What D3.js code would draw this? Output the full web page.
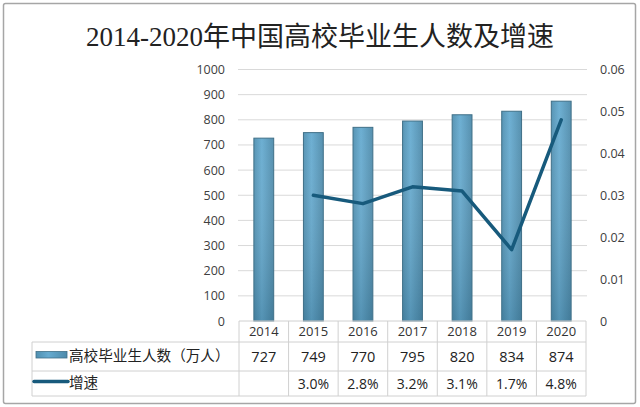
<!DOCTYPE html>
<html><head><meta charset="utf-8">
<script src="https://cdn.jsdelivr.net/npm/d3@7"></script>
<style>
html,body{margin:0;padding:0;background:#fff;}
svg{display:block;}
</style></head>
<body>
<svg id="chart" width="640" height="407"></svg>
<script>
const title = "2014-2020年中国高校毕业生人数及增速";
const years = ["2014","2015","2016","2017","2018","2019","2020"];
const graduates = [727, 749, 770, 795, 820, 834, 874];
const growth = [null, 0.030, 0.028, 0.032, 0.031, 0.017, 0.048];
const growthLabels = ["", "3.0%", "2.8%", "3.2%", "3.1%", "1.7%", "4.8%"];
const leftTicks = [0,100,200,300,400,500,600,700,800,900,1000];
const rightTicks = [0,0.01,0.02,0.03,0.04,0.05,0.06];
const seriesNames = ["高校毕业生人数（万人）", "增速"];

const svg = d3.select("#chart");
const numFont = "'Open Sans', 'Noto Sans CJK SC', sans-serif";
const cjkFont = "'Noto Sans CJK SC', sans-serif";

// outer frame
svg.append("rect").attr("x",3.5).attr("y",3.5).attr("width",632).attr("height",400)
  .attr("fill","#fff").attr("stroke","#a6a6a6").attr("stroke-width",1.5).attr("rx",2);

// title
svg.append("text").attr("x",320).attr("y",46).attr("text-anchor","middle")
  .attr("font-family","'Liberation Serif', 'Noto Sans CJK SC', serif")
  .attr("font-size",27).attr("fill","#222").text(title);

const x0 = 239, x1 = 586, yTop = 69.5, yBot = 321;
const x = d3.scaleBand().domain(years).range([x0,x1]).paddingInner(0.6).paddingOuter(0.3);
const step = x.step();
const yL = d3.scaleLinear().domain([0,1000]).range([yBot,yTop]);
const yR = d3.scaleLinear().domain([0,0.06]).range([yBot,yTop]);

// gridlines
svg.append("g").selectAll("line").data(leftTicks.filter(d=>d>0)).join("line")
  .attr("x1",x0-1).attr("x2",x1+1).attr("y1",d=>yL(d)).attr("y2",d=>yL(d))
  .attr("stroke","#d9d9d9").attr("stroke-width",1);

// left axis
const gl = svg.append("g").attr("transform",`translate(${x0},0)`)
  .call(d3.axisLeft(yL).tickValues(leftTicks).tickSize(0).tickPadding(14).tickFormat(d3.format("d")));
gl.select(".domain").remove();
gl.selectAll("text").attr("font-family",numFont).attr("font-size",12.5).attr("fill","#404040");

// right axis
const gr = svg.append("g").attr("transform",`translate(${x1},0)`)
  .call(d3.axisRight(yR).tickValues(rightTicks).tickSize(0).tickPadding(14)
    .tickFormat(d=>d===0?"0":d.toFixed(2)));
gr.select(".domain").remove();
gr.selectAll("text").attr("font-family",numFont).attr("font-size",12.5).attr("fill","#404040");

// gradient
const defs = svg.append("defs");
const grad = defs.append("linearGradient").attr("id","barGrad").attr("x1","0").attr("x2","1").attr("y1","0").attr("y2","0");
grad.append("stop").attr("offset","0%").attr("stop-color","#4f8fb0");
grad.append("stop").attr("offset","40%").attr("stop-color","#66abd0");
grad.append("stop").attr("offset","100%").attr("stop-color","#4d8aaa");
const gradV = defs.append("linearGradient").attr("id","barShade").attr("x1","0").attr("x2","0").attr("y1","0").attr("y2","1");
gradV.append("stop").attr("offset","0%").attr("stop-color","#ffffff").attr("stop-opacity",0.05);
gradV.append("stop").attr("offset","100%").attr("stop-color","#1f4a60").attr("stop-opacity",0.25);

// bars
const bars = svg.append("g");
bars.selectAll("rect.b").data(graduates).join("rect").attr("class","b")
  .attr("x",(d,i)=>x(years[i])).attr("width",x.bandwidth())
  .attr("y",d=>yL(d)).attr("height",d=>yBot-yL(d))
  .attr("fill","url(#barGrad)").attr("stroke","#3f6f87").attr("stroke-width",1);
bars.selectAll("rect.s").data(graduates).join("rect").attr("class","s")
  .attr("x",(d,i)=>x(years[i])+0.5).attr("width",x.bandwidth()-1)
  .attr("y",d=>yL(d)+0.5).attr("height",d=>yBot-yL(d)-1)
  .attr("fill","url(#barShade)");

// line
const cx = i => x(years[i]) + x.bandwidth()/2;
const lineGen = d3.line().defined(d=>d!=null).x((d,i)=>cx(i)).y(d=>yR(d));
svg.append("path").datum(growth).attr("d",lineGen)
  .attr("fill","none").attr("stroke","#175a7c").attr("stroke-width",3.5)
  .attr("stroke-linejoin","round").attr("stroke-linecap","round");

// data table
const tbl = svg.append("g");
const tLeft = 32, rowY = [321, 342, 371, 396];
const gridC = "#d0d0d0";
// horizontal lines
tbl.append("line").attr("x1",x0).attr("x2",x1).attr("y1",rowY[0]).attr("y2",rowY[0]).attr("stroke",gridC);
[1,2,3].forEach(r=>tbl.append("line").attr("x1",tLeft).attr("x2",x1).attr("y1",rowY[r]).attr("y2",rowY[r]).attr("stroke",gridC));
// vertical lines
tbl.append("line").attr("x1",tLeft).attr("x2",tLeft).attr("y1",rowY[1]).attr("y2",rowY[3]).attr("stroke",gridC);
tbl.selectAll("line.v").data(d3.range(years.length+1)).join("line").attr("class","v")
  .attr("x1",i=>x0+i*step).attr("x2",i=>x0+i*step).attr("y1",rowY[0]).attr("y2",rowY[3]).attr("stroke",gridC);

// year labels
tbl.selectAll("text.yr").data(years).join("text").attr("class","yr")
  .attr("x",(d,i)=>cx(i)).attr("y",(rowY[0]+rowY[1])/2+4.5).attr("text-anchor","middle")
  .attr("font-family",numFont).attr("font-size",13).attr("fill","#333").text(d=>d);
tbl.selectAll("text.gv").data(graduates).join("text").attr("class","gv")
  .attr("x",(d,i)=>cx(i)).attr("y",(rowY[1]+rowY[2])/2+5).attr("text-anchor","middle")
  .attr("font-family",numFont).attr("font-size",14.5).attr("fill","#222").text(d=>d);
tbl.selectAll("text.gr").data(growthLabels).join("text").attr("class","gr")
  .attr("x",(d,i)=>cx(i)).attr("y",(rowY[2]+rowY[3])/2+5).attr("text-anchor","middle")
  .attr("font-family",numFont).attr("font-size",14).attr("fill","#222").text(d=>d);

// legend keys
tbl.append("rect").attr("x",36).attr("y",351.5).attr("width",31).attr("height",6.5)
  .attr("fill","url(#barGrad)").attr("stroke","#3f6f87").attr("stroke-width",0.8);
tbl.append("line").attr("x1",34).attr("x2",68).attr("y1",381.5).attr("y2",381.5)
  .attr("stroke","#175a7c").attr("stroke-width",3.5).attr("stroke-linecap","round");
tbl.append("text").attr("x",69).attr("y",361).attr("font-family",cjkFont).attr("font-size",14.6)
  .attr("fill","#222").text(seriesNames[0]);
tbl.append("text").attr("x",69).attr("y",388).attr("font-family",cjkFont).attr("font-size",14.6)
  .attr("fill","#222").text(seriesNames[1]);
</script>
</body></html>
